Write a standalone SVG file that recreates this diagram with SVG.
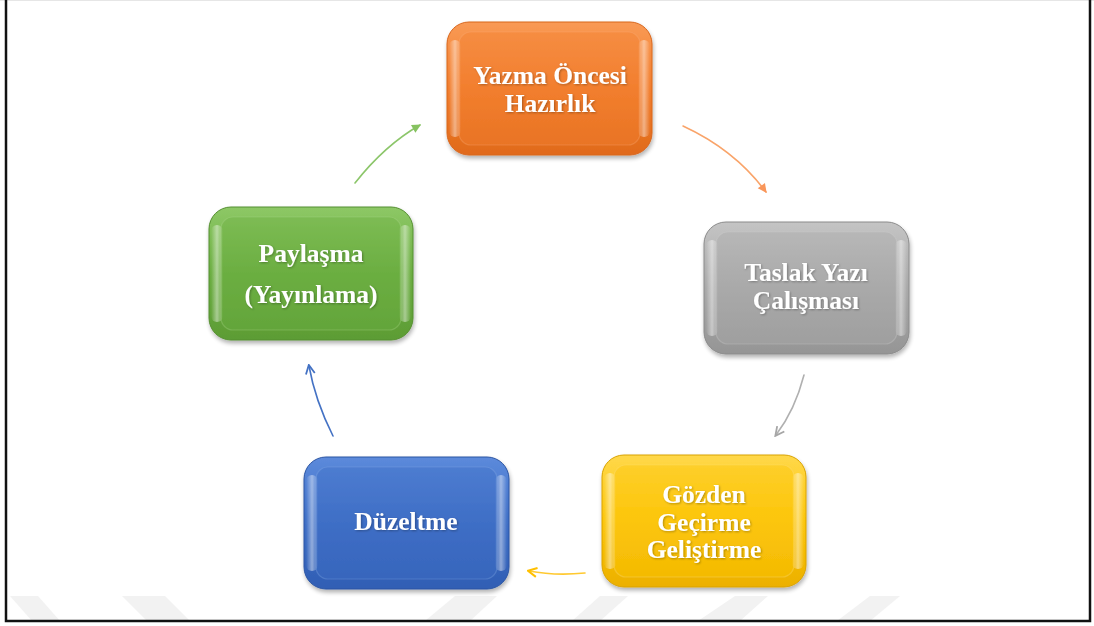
<svg xmlns="http://www.w3.org/2000/svg" width="1094" height="626" viewBox="0 0 1094 626">
<defs>
<style>
.lbl{font-family:"Liberation Serif","Times New Roman",serif;font-weight:bold;font-size:25.5px;fill:#ffffff;text-anchor:middle}
.edge{fill:none;stroke-width:1.6;stroke-linecap:round}
.wm{fill:#f2f2f2}
.hl{fill:url(#side)}
</style>
<filter id="sh" x="-10%" y="-10%" width="120%" height="130%">
<feGaussianBlur in="SourceAlpha" stdDeviation="2"/>
<feOffset dx="1" dy="3" result="b"/>
<feComponentTransfer><feFuncA type="linear" slope="0.3"/></feComponentTransfer>
<feMerge><feMergeNode/><feMergeNode in="SourceGraphic"/></feMerge>
</filter>
<filter id="ts"><feDropShadow dx="1" dy="1" stdDeviation="0.8" flood-color="#000" flood-opacity="0.3"/></filter>
<linearGradient id="side" x1="0" y1="0" x2="1" y2="0">
<stop offset="0" stop-color="#fff" stop-opacity="0"/>
<stop offset="0.5" stop-color="#fff" stop-opacity="0.45"/>
<stop offset="1" stop-color="#fff" stop-opacity="0"/>
</linearGradient>
<linearGradient id="gO" x1="0" y1="0" x2="0" y2="1"><stop offset="0" stop-color="#f99a55"/><stop offset="0.5" stop-color="#f27e2e"/><stop offset="1" stop-color="#e06a1a"/></linearGradient>
<linearGradient id="gG" x1="0" y1="0" x2="0" y2="1"><stop offset="0" stop-color="#c4c4c4"/><stop offset="0.5" stop-color="#a9a9a9"/><stop offset="1" stop-color="#959595"/></linearGradient>
<linearGradient id="gY" x1="0" y1="0" x2="0" y2="1"><stop offset="0" stop-color="#ffd84a"/><stop offset="0.5" stop-color="#fcc60a"/><stop offset="1" stop-color="#ecb000"/></linearGradient>
<linearGradient id="gB" x1="0" y1="0" x2="0" y2="1"><stop offset="0" stop-color="#5c8adb"/><stop offset="0.5" stop-color="#3f6fc6"/><stop offset="1" stop-color="#305eb4"/></linearGradient>
<linearGradient id="gN" x1="0" y1="0" x2="0" y2="1"><stop offset="0" stop-color="#8dc866"/><stop offset="0.5" stop-color="#6cae42"/><stop offset="1" stop-color="#5c9c34"/></linearGradient>
<marker id="aO" viewBox="0 0 10 10" refX="8" refY="5" markerWidth="7" markerHeight="7" orient="auto"><path d="M1,1 L9,5 L1,9 Z" fill="#f9965a"/></marker>
<marker id="aG" viewBox="0 0 10 10" refX="8" refY="5" markerWidth="7" markerHeight="7" orient="auto"><path d="M1,1 L9,5 L1,9" fill="none" stroke="#a6a6a6" stroke-width="1.6"/></marker>
<marker id="aY" viewBox="0 0 10 10" refX="8" refY="5" markerWidth="7" markerHeight="7" orient="auto"><path d="M1,1 L9,5 L1,9" fill="none" stroke="#ffc000" stroke-width="1.8"/></marker>
<marker id="aB" viewBox="0 0 10 10" refX="8" refY="5" markerWidth="7" markerHeight="7" orient="auto"><path d="M1,1 L9,5 L1,9" fill="none" stroke="#4472c4" stroke-width="1.6"/></marker>
<marker id="aN" viewBox="0 0 10 10" refX="8" refY="5" markerWidth="7" markerHeight="7" orient="auto"><path d="M1,1 L9,5 L1,9 Z" fill="#86c260"/></marker>
</defs>
<rect width="1094" height="626" fill="#ffffff"/>
<g id="watermark">
<polygon class="wm" points="10,596 38,596 60,621 32,621"/>
<polygon class="wm" points="122,596 165,596 190,621 147,621"/>
<polygon class="wm" points="455,596 497,596 470,621 425,621"/>
<polygon class="wm" points="600,596 628,596 600,621 572,621"/>
<polygon class="wm" points="735,596 768,596 740,621 698,621"/>
<polygon class="wm" points="870,596 900,596 870,621 837,621"/>
</g>
<g id="frame">
<line x1="0" y1="0.5" x2="1094" y2="0.5" stroke="#e6e6e6" stroke-width="1"/>
<path d="M6,0 V621 H1090 V0" fill="none" stroke="#111" stroke-width="2.5"/>
</g>
<g id="connectors">
<path class="edge" d="M683,126 Q735,150 766,192" stroke="#f9a46a" marker-end="url(#aO)"/>
<path class="edge" d="M804,375 Q795,410 776,435" stroke="#b0b0b0" marker-end="url(#aG)"/>
<path class="edge" d="M585,573 Q555,576 529,571" stroke="#ffc930" stroke-width="2" marker-end="url(#aY)"/>
<path class="edge" d="M333,436 Q315,400 309,366" stroke="#4472c4" marker-end="url(#aB)"/>
<path class="edge" d="M355,183 Q385,145 420,125" stroke="#8cc66a" marker-end="url(#aN)"/>
</g>
<g id="node-orange" filter="url(#sh)">
<rect x="447" y="22" width="205" height="133" rx="22" fill="url(#gO)" stroke="#d8661c" stroke-width="1"/>
<rect x="459" y="32" width="181" height="113" rx="12" fill="#f27f30" fill-opacity="0.4" stroke="#fbb07a" stroke-opacity="0.3" stroke-width="1.2"/>
<rect class="hl" x="449" y="40" width="12" height="97" rx="6"/>
<rect class="hl" x="638" y="40" width="12" height="97" rx="6"/>
<g filter="url(#ts)"><text class="lbl" x="550" y="84">Yazma Öncesi</text><text class="lbl" x="550" y="112">Hazırlık</text></g>
</g>
<g id="node-gray" filter="url(#sh)">
<rect x="704" y="222" width="205" height="132" rx="22" fill="url(#gG)" stroke="#8a8a8a" stroke-width="1"/>
<rect x="716" y="232" width="181" height="112" rx="12" fill="#aaaaaa" fill-opacity="0.4" stroke="#d0d0d0" stroke-opacity="0.3" stroke-width="1.2"/>
<rect class="hl" x="706" y="240" width="12" height="96" rx="6"/>
<rect class="hl" x="895" y="240" width="12" height="96" rx="6"/>
<g filter="url(#ts)"><text class="lbl" x="806" y="281">Taslak Yazı</text><text class="lbl" x="806" y="309">Çalışması</text></g>
</g>
<g id="node-yellow" filter="url(#sh)">
<rect x="602" y="455" width="204" height="132" rx="22" fill="url(#gY)" stroke="#d9a200" stroke-width="1"/>
<rect x="614" y="465" width="180" height="112" rx="12" fill="#fcc60a" fill-opacity="0.4" stroke="#ffe080" stroke-opacity="0.3" stroke-width="1.2"/>
<rect class="hl" x="604" y="473" width="12" height="96" rx="6"/>
<rect class="hl" x="792" y="473" width="12" height="96" rx="6"/>
<g filter="url(#ts)"><text class="lbl" x="704" y="503">Gözden</text><text class="lbl" x="704" y="531">Geçirme</text><text class="lbl" x="704" y="558">Geliştirme</text></g>
</g>
<g id="node-blue" filter="url(#sh)">
<rect x="304" y="457" width="205" height="132" rx="22" fill="url(#gB)" stroke="#2b55a3" stroke-width="1"/>
<rect x="316" y="467" width="181" height="112" rx="12" fill="#3f6fc6" fill-opacity="0.4" stroke="#8aaee8" stroke-opacity="0.3" stroke-width="1.2"/>
<rect class="hl" x="306" y="475" width="12" height="96" rx="6"/>
<rect class="hl" x="495" y="475" width="12" height="96" rx="6"/>
<g filter="url(#ts)"><text class="lbl" x="406" y="530">Düzeltme</text></g>
</g>
<g id="node-green" filter="url(#sh)">
<rect x="209" y="207" width="204" height="133" rx="22" fill="url(#gN)" stroke="#558f30" stroke-width="1"/>
<rect x="221" y="217" width="180" height="113" rx="12" fill="#6cae42" fill-opacity="0.4" stroke="#b0dc90" stroke-opacity="0.3" stroke-width="1.2"/>
<rect class="hl" x="211" y="225" width="12" height="97" rx="6"/>
<rect class="hl" x="399" y="225" width="12" height="97" rx="6"/>
<g filter="url(#ts)"><text class="lbl" x="311" y="262">Paylaşma</text><text class="lbl" x="311" y="303">(Yayınlama)</text></g>
</g>
</svg>
